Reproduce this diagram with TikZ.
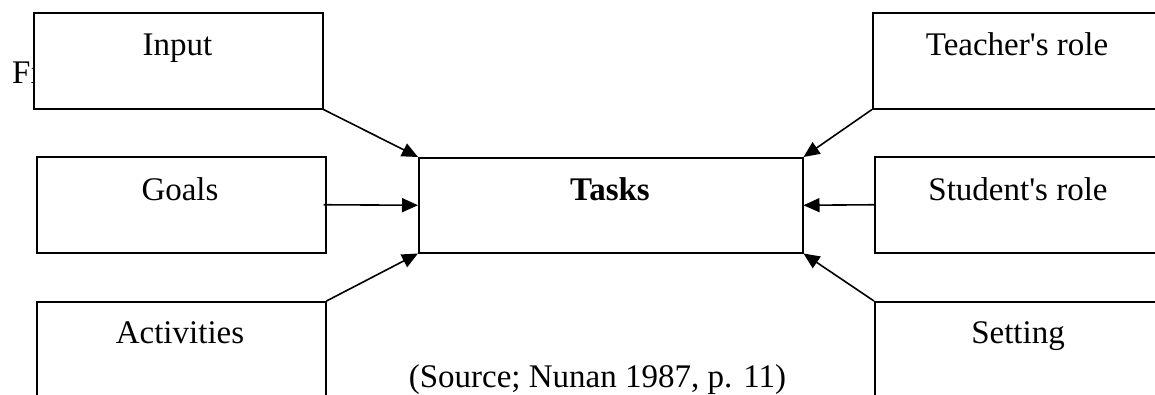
\documentclass[tikz,border=0pt]{standalone}
\usepackage{fontspec}
\setmainfont{Liberation Serif}
\usetikzlibrary{arrows.meta}
\tikzset{
  box/.style={draw=black, fill=white, line width=1.5pt, inner sep=0pt,
              minimum width=289pt, minimum height=96pt, anchor=north west},
  lbl/.style={font=\fontsize{33pt}{40pt}\selectfont, inner sep=0pt, anchor=base},
  arr/.style={draw=black, line width=1.6pt, -{Triangle[length=16pt,width=14pt]}}
}
\begin{document}
\begin{tikzpicture}[x=1pt, y=-1pt]
\useasboundingbox (0,0) rectangle (1155,394);
\clip (0,0) rectangle (1155,394);

% caption text partly hidden by the first box
\node[lbl, anchor=base west] (fig) at (12,83) {Fi};

% left column
\node[box] (input) at (33,12) {};
\node[box] (goals) at (36,156) {};
\node[box] (acts)  at (36,301) {};
\node[lbl] (tinput) at (177.5,55) {Input};
\node[lbl] (tgoals) at (180,200) {Goals};
\node[lbl] (tacts)  at (180,343) {Activities};

% centre
\node[box, minimum width=384pt, minimum height=95pt] (tasks) at (418,157) {};
\node[lbl] (ttasks) at (610,200) {\bfseries Tasks};

% right column
\node[box] (teach) at (872,12) {};
\node[box] (stud)  at (874,156) {};
\node[box] (sett)  at (874,301) {};
\node[lbl] (tteach) at (1017,55) {Teacher\textquotesingle s role};
\node[lbl] (tstud)  at (1018,200) {Student\textquotesingle s role};
\node[lbl] (tsett)  at (1018,343) {Setting};

% source line
\node[lbl] (src) at (597.5,387) {(Source; Nunan 1987, p. 11)};

% connectors into the task box
\draw[arr] (input.south east) -- (tasks.north west);
\draw[arr] ([xshift=-3pt]goals.east) -- (tasks.west);
\draw[arr] (acts.north east) -- (tasks.south west);
\draw[arr] (teach.south west) -- (tasks.north east);
\draw[arr] (stud.west) -- (tasks.east);
\draw[arr] (sett.north west) -- (tasks.south east);
\end{tikzpicture}
\end{document}
